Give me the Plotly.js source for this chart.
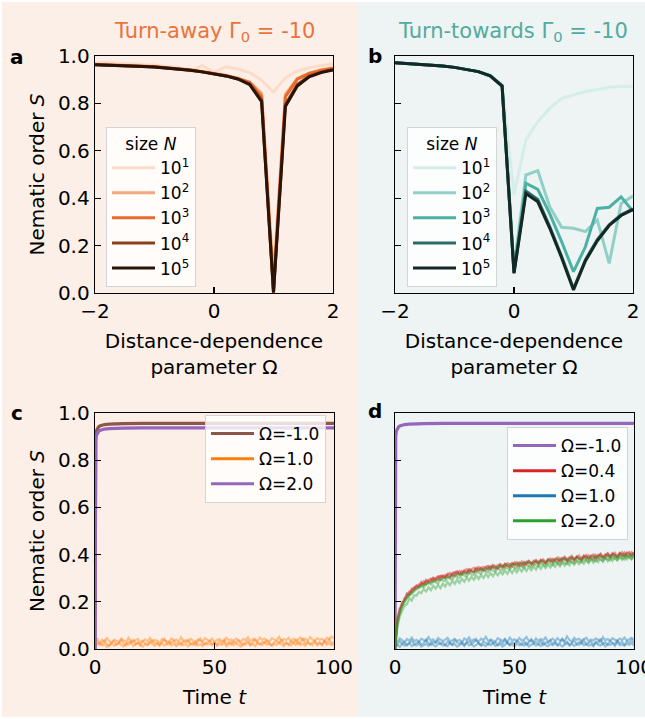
<!DOCTYPE html>
<html>
<head>
<meta charset="utf-8">
<script src="https://cdn.plot.ly/plotly-3.0.1.min.js"></script>
<style>html,body{margin:0;padding:0;background:#fff;}#chart{width:645px;height:719px;}</style>
</head>
<body>
<div id="chart"></div>
<script>
// ---------- Data ----------
const omega = [-2,-1.8,-1.6,-1.4,-1.2,-1.0,-0.8,-0.6,-0.4,-0.2,0,0.2,0.4,0.6,0.8,1.0,1.2,1.4,1.6,1.8,2.0];
const sizeLabels = ['10<sup>1</sup>','10<sup>2</sup>','10<sup>3</sup>','10<sup>4</sup>','10<sup>5</sup>'];

// Panel a: turn-away
const awayN1 = [0.970,0.971,0.966,0.968,0.964,0.962,0.955,0.952,0.935,0.960,0.930,0.955,0.945,0.930,0.898,0.848,0.908,0.937,0.951,0.960,0.967];
const awayN2 = [0.965,0.964,0.962,0.960,0.958,0.956,0.952,0.948,0.942,0.935,0.928,0.919,0.906,0.890,0.842,0.060,0.838,0.905,0.928,0.942,0.950];
const awayN3 = [0.964,0.963,0.961,0.959,0.957,0.955,0.951,0.946,0.941,0.934,0.927,0.917,0.905,0.888,0.830,0.010,0.828,0.902,0.926,0.939,0.947];
const awayN4 = [0.963,0.962,0.960,0.958,0.956,0.954,0.950,0.945,0.940,0.933,0.926,0.916,0.903,0.882,0.814,0.004,0.795,0.880,0.915,0.932,0.943];
const awayN5 = [0.963,0.962,0.960,0.958,0.956,0.954,0.950,0.945,0.940,0.933,0.926,0.916,0.903,0.879,0.807,0.001,0.787,0.873,0.912,0.930,0.941];

// Panel b: turn-towards
const towardN1 = [0.973,0.970,0.967,0.963,0.959,0.953,0.946,0.936,0.920,0.880,0.415,0.646,0.723,0.779,0.821,0.835,0.850,0.859,0.868,0.871,0.872];
const towardN2 = [0.972,0.969,0.966,0.962,0.958,0.952,0.944,0.934,0.917,0.876,0.110,0.498,0.516,0.364,0.277,0.273,0.259,0.308,0.125,0.378,0.409];
const towardN3 = [0.972,0.969,0.966,0.962,0.958,0.952,0.944,0.934,0.916,0.874,0.090,0.463,0.437,0.335,0.217,0.090,0.195,0.357,0.362,0.406,0.345];
const towardN4 = [0.972,0.969,0.966,0.962,0.958,0.952,0.944,0.934,0.916,0.873,0.085,0.430,0.395,0.280,0.155,0.018,0.140,0.225,0.288,0.330,0.355];
const towardN5 = [0.972,0.969,0.966,0.962,0.958,0.952,0.944,0.934,0.916,0.873,0.083,0.420,0.385,0.274,0.149,0.013,0.135,0.220,0.285,0.327,0.352];

// Time axis of the simulation runs (t = 0..100)
const timeGrid = [0,1,2,3,4,5,6,7,8,9,10,11,12,13,14,15,16,17,18,19,20,21,22,23,24,25,26,27,28,29,30,31,32,33,34,35,36,37,38,39,40,41,42,43,44,45,46,47,48,49,50,51,52,53,54,55,56,57,58,59,60,61,62,63,64,65,66,67,68,69,70,71,72,73,74,75,76,77,78,79,80,81,82,83,84,85,86,87,88,89,90,91,92,93,94,95,96,97,98,99,100];
// Time axis for the fast-saturating curves
const timeFast = [0,0.15,0.3,0.6,1,1.5,2,3,4,6,8,12,20,40,60,80,100];

// Panel c (turn-away)
const cBrown = [0,0.78,0.900,0.925,0.935,0.941,0.945,0.949,0.951,0.953,0.954,0.955,0.956,0.956,0.956,0.956,0.956];
const cPurple = [0,0.75,0.880,0.905,0.915,0.922,0.926,0.930,0.932,0.934,0.935,0.936,0.937,0.937,0.937,0.937,0.937];
const cOrange1 = [.024,.031,.017,.028,.036,.021,.013,.027,.034,.019, .025,.039,.022,.016,.030,.026,.041,.020,.028,.015, .033,.024,.018,.029,.037,.022,.027,.014,.031,.043, .023,.019,.028,.035,.021,.026,.017,.032,.029,.038, .020,.025,.016,.030,.044,.024,.019,.027,.035,.022, .028,.017,.033,.025,.040,.021,.029,.018,.031,.026, .036,.023,.015,.028,.034,.020,.027,.045,.024,.019, .030,.026,.037,.021,.016,.029,.033,.024,.041,.022, .027,.018,.032,.025,.038,.020,.028,.046,.023,.031, .019,.027,.035,.022,.029,.017,.034,.026,.042,.024, .030];
const cOrange2 = [.012,.019,.026,.015,.021,.009,.018,.024,.014,.020, .027,.016,.011,.022,.018,.029,.013,.020,.025,.017, .010,.021,.016,.028,.019,.013,.023,.017,.026,.014, .020,.031,.015,.022,.012,.019,.027,.016,.021,.011, .024,.018,.030,.015,.020,.013,.026,.019,.022,.016, .028,.014,.021,.017,.025,.012,.020,.029,.016,.023, .018,.011,.024,.019,.027,.015,.021,.013,.026,.020, .016,.030,.018,.023,.014,.022,.017,.028,.019,.012, .025,.021,.015,.027,.018,.033,.016,.022,.014,.026, .020,.017,.029,.015,.023,.019,.031,.018,.024,.016, .022];
const cOrange3 = [.035,.042,.028,.039,.031,.046,.033,.027,.040,.036, .030,.044,.037,.029,.048,.034,.031,.039,.043,.028, .036,.041,.032,.047,.030,.038,.035,.026,.042,.037, .033,.029,.045,.036,.040,.031,.049,.034,.038,.030, .043,.035,.028,.041,.037,.032,.046,.039,.033,.044, .029,.038,.042,.035,.031,.047,.036,.040,.033,.045, .038,.030,.043,.037,.050,.034,.041,.036,.032,.048, .039,.044,.035,.031,.046,.040,.037,.052,.034,.042, .038,.047,.033,.043,.036,.041,.049,.037,.044,.035, .051,.040,.036,.046,.039,.043,.034,.048,.041,.053, .045];

// Panel d (turn-towards)
const dPurple = [0,0.78,0.900,0.925,0.935,0.941,0.945,0.949,0.951,0.953,0.954,0.955,0.956,0.956,0.956,0.956,0.956];
const dRed1 = [0,.128,.155,.198,.207,.232,.229,.251,.262,.255,.274, .270,.287,.276,.293,.298,.287,.301,.308,.296,.311, .303,.318,.309,.322,.326,.314,.330,.319,.333,.338, .325,.339,.344,.330,.347,.341,.333,.349,.352,.339, .356,.351,.342,.360,.355,.347,.364,.359,.350,.368, .362,.353,.371,.357,.366,.374,.360,.369,.377,.363, .372,.380,.366,.377,.384,.370,.381,.388,.373,.384, .391,.376,.386,.394,.379,.389,.397,.381,.392,.399, .384,.394,.401,.386,.397,.404,.389,.399,.406,.390, .401,.408,.392,.403,.410,.394,.405,.411,.396,.407];
const dRed2 = [0,.110,.168,.184,.216,.220,.244,.240,.259,.268,.262, .280,.275,.289,.280,.294,.300,.290,.305,.309,.299, .313,.306,.302,.319,.312,.327,.318,.315,.331,.322, .336,.327,.324,.340,.331,.345,.336,.333,.349,.341, .353,.343,.340,.357,.347,.361,.352,.348,.364,.355, .368,.356,.352,.369,.359,.372,.363,.358,.375,.364, .377,.366,.362,.379,.369,.382,.372,.367,.385,.374, .387,.376,.372,.390,.378,.392,.381,.377,.395,.383, .397,.384,.380,.399,.387,.401,.389,.385,.404,.391, .406,.392,.388,.407,.394,.409,.396,.391,.410,.398];
const dRed3 = [0,.132,.172,.193,.205,.236,.231,.255,.249,.270,.266, .284,.271,.293,.287,.285,.302,.296,.292,.309,.311, .301,.316,.322,.308,.324,.329,.317,.331,.325,.320, .338,.333,.327,.345,.340,.331,.348,.344,.336,.352, .347,.339,.356,.351,.344,.360,.355,.346,.363,.359, .351,.367,.362,.355,.371,.365,.357,.374,.369,.360, .377,.372,.363,.380,.375,.366,.383,.378,.369,.386, .381,.372,.389,.384,.375,.392,.386,.377,.394,.389, .379,.396,.392,.382,.399,.394,.384,.401,.397,.387, .404,.399,.389,.406,.401,.391,.408,.404,.393,.411];
const dBlue1 = [.027,.018,.033,.022,.029,.015,.024,.036,.020,.026, .031,.019,.025,.040,.023,.017,.030,.026,.035,.021, .028,.016,.032,.024,.019,.037,.027,.022,.030,.018, .025,.034,.021,.029,.042,.023,.018,.031,.026,.020, .036,.024,.028,.017,.033,.022,.039,.025,.019,.030, .023,.035,.027,.020,.031,.018,.026,.041,.024,.029, .021,.034,.017,.028,.025,.037,.022,.030,.019,.027, .043,.024,.031,.018,.026,.035,.021,.029,.023,.038, .020,.027,.032,.017,.030,.025,.044,.022,.028,.019, .034,.026,.021,.036,.024,.030,.018,.033,.027,.039, .025];
const dBlue2 = [.011,.017,.009,.022,.014,.019,.025,.012,.018,.015, .023,.010,.016,.021,.013,.027,.017,.011,.020,.024, .014,.019,.012,.026,.016,.021,.010,.018,.023,.013, .028,.015,.020,.011,.017,.024,.014,.019,.012,.022, .016,.025,.013,.018,.021,.010,.017,.029,.015,.020, .012,.023,.016,.019,.014,.026,.011,.018,.022,.015, .020,.013,.027,.017,.012,.021,.016,.024,.014,.019, .011,.018,.025,.015,.022,.013,.020,.017,.030,.016, .021,.014,.019,.012,.026,.018,.015,.023,.011,.020, .017,.024,.013,.028,.016,.019,.014,.022,.018,.025, .015];
const dBlue3 = [.038,.031,.045,.036,.029,.042,.034,.048,.033,.039, .030,.044,.037,.032,.050,.035,.041,.029,.046,.038, .033,.040,.047,.031,.036,.043,.034,.039,.028,.045, .037,.049,.032,.041,.035,.030,.044,.038,.052,.033, .040,.036,.031,.046,.039,.034,.043,.029,.048,.037, .041,.032,.047,.036,.040,.051,.034,.038,.030,.045, .035,.042,.037,.049,.031,.039,.044,.033,.046,.036, .040,.034,.053,.038,.032,.047,.039,.043,.035,.041, .048,.033,.040,.036,.045,.038,.031,.050,.037,.042, .035,.046,.039,.033,.044,.038,.048,.036,.041,.047, .040];
const dGreen1 = [0,.105,.150,.182,.196,.218,.224,.241,.244,.256,.258, .268,.262,.275,.279,.273,.287,.283,.278,.294,.290, .287,.302,.298,.295,.309,.304,.301,.316,.311,.307, .322,.317,.313,.327,.323,.319,.332,.328,.324,.337, .333,.328,.342,.338,.333,.346,.342,.337,.350,.346, .341,.354,.349,.344,.357,.352,.347,.359,.355,.350, .362,.357,.352,.365,.360,.355,.368,.363,.358,.370, .365,.360,.373,.368,.363,.376,.371,.366,.379,.373, .368,.381,.376,.370,.383,.378,.373,.386,.380,.375, .388,.383,.377,.390,.385,.379,.392,.387,.381,.394];
const dGreen2 = [0,.115,.158,.188,.209,.214,.236,.233,.252,.258,.264, .265,.276,.272,.284,.281,.290,.288,.297,.293,.303, .299,.309,.305,.314,.310,.318,.315,.323,.319,.327, .324,.331,.327,.335,.332,.339,.336,.343,.339,.347, .343,.350,.346,.353,.349,.357,.352,.360,.355,.362, .358,.365,.360,.367,.362,.369,.364,.371,.366,.373, .368,.375,.370,.377,.372,.379,.374,.381,.376,.383, .377,.384,.379,.386,.381,.388,.382,.389,.384,.391, .385,.392,.387,.394,.388,.395,.389,.396,.391,.398, .392,.399,.393,.400,.394,.401,.395,.402,.396,.403];
const dGreen3 = [0,.095,.138,.160,.184,.190,.214,.205,.228,.226,.242, .236,.255,.243,.262,.249,.268,.256,.272,.258,.277, .265,.283,.270,.289,.276,.294,.280,.298,.285,.303, .289,.306,.293,.311,.297,.314,.301,.318,.305,.321, .309,.325,.312,.329,.316,.333,.319,.336,.322,.339, .325,.342,.328,.345,.331,.348,.334,.350,.337,.353, .340,.356,.343,.358,.345,.361,.348,.363,.350,.366, .353,.368,.355,.371,.358,.373,.360,.375,.362,.378, .364,.380,.366,.382,.368,.384,.370,.386,.372,.388, .374,.390,.376,.391,.378,.393,.380,.394,.381,.396];

// ---------- Styles ----------
const FONT = 'DejaVu Sans, Verdana, sans-serif';
const orangeShades = ['#fbdccb','#f5a77f','#e8692a','#8c3f1b','#2c1308'];
const tealShades = ['#d6eee9','#90d0c6','#4cb1a4','#2b6d64','#142926'];
const cAway = [awayN1, awayN2, awayN3, awayN4, awayN5];
const cToward = [towardN1, towardN2, towardN3, towardN4, towardN5];

const traces = [];
cAway.forEach((ys, i) => traces.push({x: omega, y: ys, xaxis:'x', yaxis:'y', mode:'lines', name: sizeLabels[i], legend:'legend',
  line:{color: orangeShades[i], width:3}}));
cToward.forEach((ys, i) => traces.push({x: omega, y: ys, xaxis:'x2', yaxis:'y2', mode:'lines', name: sizeLabels[i], legend:'legend2',
  line:{color: tealShades[i], width:3}}));

function runs(arrs, color, xa, ya, op) {
  arrs.forEach(ys => traces.push({x: timeGrid, y: ys, xaxis:xa, yaxis:ya, mode:'lines', showlegend:false, hoverinfo:'skip',
    opacity: op, line:{color: color, width:2.2}}));
}
function legendOnly(name, color, xa, ya, lg, rank) {
  traces.push({x:[null], y:[null], xaxis:xa, yaxis:ya, mode:'lines', name:name, legend:lg, legendrank:rank, line:{color:color, width:3}});
}

// panel c
runs([cOrange1, cOrange2, cOrange3], '#ff7f0e', 'x3', 'y3', 0.42);
traces.push({x: timeFast, y: cBrown, xaxis:'x3', yaxis:'y3', mode:'lines', showlegend:false, line:{color:'#8c564b', width:3.2}});
traces.push({x: timeFast, y: cPurple, xaxis:'x3', yaxis:'y3', mode:'lines', showlegend:false, line:{color:'#9467bd', width:3.2}});
legendOnly('Ω=-1.0', '#8c564b', 'x3', 'y3', 'legend3', 1);
legendOnly('Ω=1.0', '#ff7f0e', 'x3', 'y3', 'legend3', 2);
legendOnly('Ω=2.0', '#9467bd', 'x3', 'y3', 'legend3', 3);

// panel d
traces.push({x: timeFast, y: dPurple, xaxis:'x4', yaxis:'y4', mode:'lines', showlegend:false, line:{color:'#9467bd', width:3.2}});
runs([dRed1, dRed2, dRed3], '#d62728', 'x4', 'y4', 0.45);
runs([dBlue1, dBlue2, dBlue3], '#1f77b4', 'x4', 'y4', 0.42);
runs([dGreen1, dGreen2, dGreen3], '#2ca02c', 'x4', 'y4', 0.42);
legendOnly('Ω=-1.0', '#9467bd', 'x4', 'y4', 'legend4', 1);
legendOnly('Ω=0.4', '#d62728', 'x4', 'y4', 'legend4', 2);
legendOnly('Ω=1.0', '#1f77b4', 'x4', 'y4', 'legend4', 3);
legendOnly('Ω=2.0', '#2ca02c', 'x4', 'y4', 'legend4', 4);

// ---------- Layout ----------
const W = 645, H = 719;
const px = v => v / W, py = v => 1 - v / H;
const baseAxis = {showline:true, linecolor:'black', linewidth:1.3, mirror:true, ticks:'inside', ticklen:6, tickwidth:1.3,
  tickcolor:'black', showgrid:false, zeroline:false, tickfont:{family:FONT, size:20, color:'black'}, automargin:false,
  ticklabeloverflow:'allow'};
const omegaTicks = {tickvals:[-2,0,2], ticktext:['\u22122','0','2'], range:[-2,2]};
const timeTicks = {tickvals:[0,50,100], ticktext:['0','50','100'], range:[0,100]};
const sTicks = {range:[0,1], tickvals:[0,0.2,0.4,0.6,0.8,1.0], ticktext:['0.0','0.2','0.4','0.6','0.8','1.0']};
const titleFont = {family:FONT, size:20, color:'black'};
const omegaTitle = {text:'Distance-dependence<br>parameter Ω', font:titleFont, standoff:11};
const timeTitle = {text:'Time <i>t</i>', font:titleFont, standoff:11};
const sTitle = {text:'Nematic order <i>S</i>', font:titleFont, standoff:8};

const legendBase = {bgcolor:'rgba(255,255,255,0.8)', bordercolor:'#d4d4d4', borderwidth:1, itemwidth:43,
  font:{family:FONT, size:17, color:'black'}, xref:'paper', yref:'paper', yanchor:'top', tracegroupgap:0};

const layout = {
  width: W, height: H, margin:{l:0, r:0, t:0, b:0}, paper_bgcolor:'white', plot_bgcolor:'white',
  font:{family:FONT, color:'black'},
  xaxis: Object.assign({}, baseAxis, omegaTicks, {domain:[px(95), px(333)], anchor:'y', title:omegaTitle}),
  yaxis: Object.assign({}, baseAxis, sTicks, {domain:[py(293), py(56)], anchor:'x', title:sTitle}),
  xaxis2: Object.assign({}, baseAxis, omegaTicks, {domain:[px(395), px(633)], anchor:'y2', title:omegaTitle}),
  yaxis2: Object.assign({}, baseAxis, sTicks, {domain:[py(293), py(56)], anchor:'x2', showticklabels:false}),
  xaxis3: Object.assign({}, baseAxis, timeTicks, {domain:[px(95), px(334)], anchor:'y3', title:timeTitle}),
  yaxis3: Object.assign({}, baseAxis, sTicks, {domain:[py(649), py(413)], anchor:'x3', title:sTitle}),
  xaxis4: Object.assign({}, baseAxis, timeTicks, {domain:[px(395), px(634)], anchor:'y4', title:timeTitle}),
  yaxis4: Object.assign({}, baseAxis, sTicks, {domain:[py(649), py(413)], anchor:'x4', showticklabels:false}),
  legend: Object.assign({}, legendBase, {x:px(106), y:py(127), xanchor:'left',
    title:{text:'size <i>N</i>', side:'top center', font:{family:FONT, size:17, color:'black'}}}),
  legend2: Object.assign({}, legendBase, {x:px(407), y:py(127), xanchor:'left',
    title:{text:'size <i>N</i>', side:'top center', font:{family:FONT, size:17, color:'black'}}}),
  legend3: Object.assign({}, legendBase, {x:px(326), y:py(415), xanchor:'right'}),
  legend4: Object.assign({}, legendBase, {x:px(628), y:py(427), xanchor:'right'}),
  shapes: [
    {type:'rect', xref:'paper', yref:'paper', x0:px(2), x1:px(357), y0:py(717), y1:py(2), fillcolor:'#fcefe7', line:{width:0}, layer:'below'},
    {type:'rect', xref:'paper', yref:'paper', x0:px(357), x1:1, y0:py(717), y1:py(2), fillcolor:'#edf4f3', line:{width:0}, layer:'below'}
  ],
  annotations: [
    {text:'Turn-away Γ<sub>0</sub> = -10', x:px(214), y:py(32), xref:'paper', yref:'paper', showarrow:false, xanchor:'center', yanchor:'middle', font:{family:FONT, size:21, color:'#e8743c'}},
    {text:'Turn-towards Γ<sub>0</sub> = -10', x:px(513), y:py(32), xref:'paper', yref:'paper', showarrow:false, xanchor:'center', yanchor:'middle', font:{family:FONT, size:21, color:'#52aba0'}},
    {text:'<b>a</b>', x:px(17), y:py(57), xref:'paper', yref:'paper', showarrow:false, xanchor:'center', yanchor:'middle', font:{family:FONT, size:20, color:'black'}},
    {text:'<b>b</b>', x:px(375), y:py(56), xref:'paper', yref:'paper', showarrow:false, xanchor:'center', yanchor:'middle', font:{family:FONT, size:20, color:'black'}},
    {text:'<b>c</b>', x:px(17), y:py(413), xref:'paper', yref:'paper', showarrow:false, xanchor:'center', yanchor:'middle', font:{family:FONT, size:20, color:'black'}},
    {text:'<b>d</b>', x:px(375), y:py(411), xref:'paper', yref:'paper', showarrow:false, xanchor:'center', yanchor:'middle', font:{family:FONT, size:20, color:'black'}}
  ]
};

Plotly.newPlot('chart', traces, layout, {displayModeBar:false, staticPlot:true});
</script>
</body>
</html>
